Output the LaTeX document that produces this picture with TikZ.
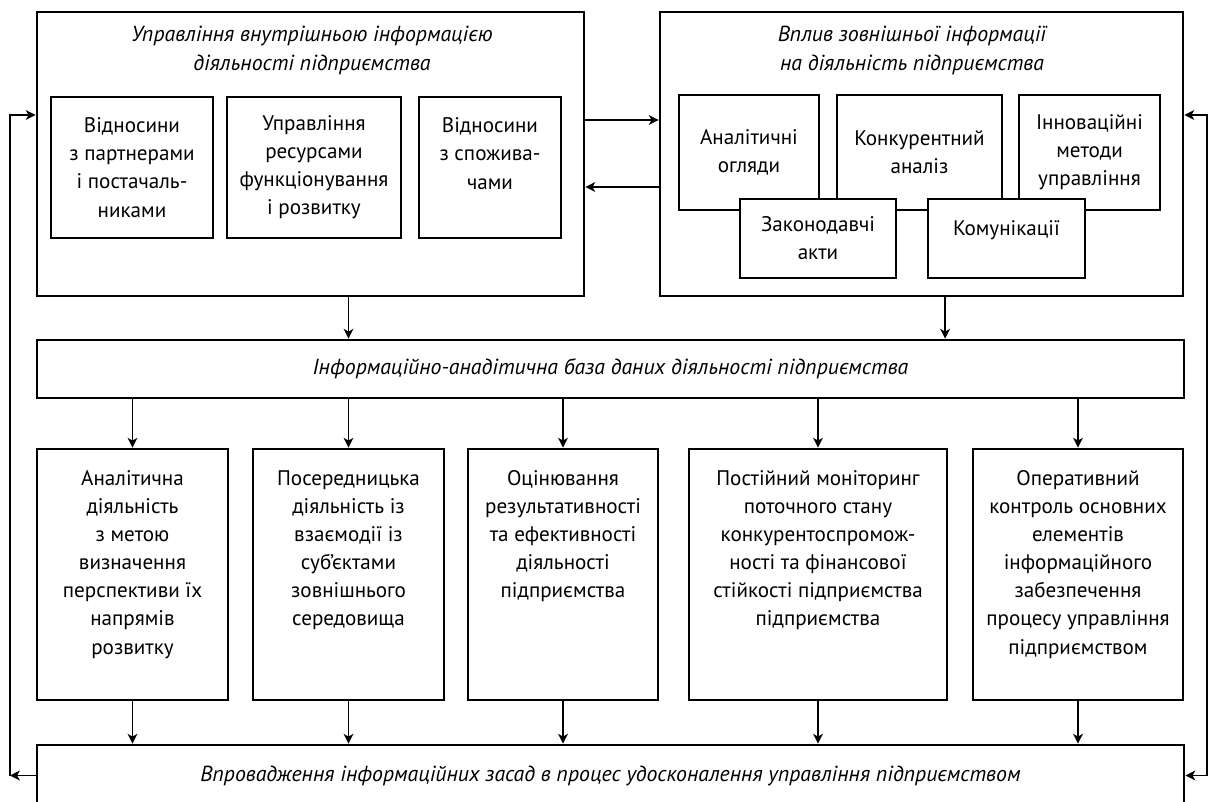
\documentclass[tikz,border=0pt]{standalone}
\usepackage{fontspec}
\setmainfont{PT Sans}
\usetikzlibrary{arrows.meta,positioning}
\begin{document}
\begin{tikzpicture}[x=0.025cm, y=-0.025cm,
  font=\fontsize{15}{20}\selectfont,
  box/.style={draw, line width=1.9pt, fill=white, inner sep=0pt, align=center},
  txt/.style={align=center, inner sep=0pt},
  ital/.style={align=center, inner sep=0pt, font=\fontsize{15.5}{20.5}\selectfont\itshape},
  arr/.style={-{Stealth[length=7pt,width=7pt,inset=2pt]}, line width=1pt}]
\useasboundingbox (0,0) rectangle (1211,802);
\node[box, minimum width=13.675cm, minimum height=7.1cm] (inner) at (310.5,154) {};
\node[box, minimum width=13.075cm, minimum height=7.1cm] (outer) at (921.5,154) {};
\node[ital] (innerttl) at (312,50.5) {Управління внутрішньою інформацією\\діяльності підприємства};
\node[ital] (outerttl) at (912,50.5) {Вплив зовнішньої інформації\\на діяльність підприємства};
\node[box, minimum width=4.05cm, minimum height=3.525cm] (part) at (132,167.5) {Відносини\\з партнерами\\і постачаль-\\никами};
\node[box, minimum width=4.35cm, minimum height=3.525cm] (res) at (314,167.5) {Управління\\ресурсами\\функціонування\\і розвитку};
\node[box, minimum width=3.55cm, minimum height=3.525cm] (cons) at (490,167.5) {Відносини\\з спожива-\\чами\\\mbox{}};
\node[box, minimum width=3.5cm, minimum height=2.875cm] (rev) at (749,152.5) {Аналітичні\\огляди};
\node[box, minimum width=4.125cm, minimum height=2.875cm] (comp) at (919.5,152.5) {Конкурентний\\аналіз};
\node[box, minimum width=3.525cm, minimum height=2.875cm] (innov) at (1089.5,152.5) {Інноваційні\\методи\\управління};
\node[box, minimum width=3.9cm, minimum height=1.975cm] (law) at (818,238.5) {Законодавчі\\акти};
\node[box, minimum width=3.925cm, minimum height=1.975cm, text depth=0.5cm] (comm) at (1006.5,238.5) {Комунікації};
\node[box, minimum width=28.675cm, minimum height=1.45cm, font=\fontsize{15.5}{20}\selectfont\itshape] (base) at (610.5,369) {Інформаційно-анадітична база даних діяльності підприємства};
\node[box, minimum width=4.775cm, minimum height=6.275cm] (anal) at (132.5,574.5) {};
\node[box, minimum width=4.775cm, minimum height=6.275cm] (medi) at (348.5,574.5) {};
\node[box, minimum width=4.75cm, minimum height=6.275cm] (eval) at (563,574.5) {};
\node[box, minimum width=6.45cm, minimum height=6.275cm] (moni) at (818,574.5) {};
\node[box, minimum width=5.25cm, minimum height=6.275cm] (ctrl) at (1078,574.5) {};
\node[txt, below=0.56cm of anal.north] (analtxt) {Аналітична\\діяльність\\з метою\\визначення\\перспективи їх\\напрямів\\розвитку};
\node[txt, below=0.56cm of medi.north] (meditxt) {Посередницька\\діяльність із\\взаємодії із\\суб’єктами\\зовнішнього\\середовища};
\node[txt, below=0.56cm of eval.north] (evaltxt) {Оцінювання\\результативності\\та ефективності\\діяльності\\підприємства};
\node[txt, below=0.56cm of moni.north] (monitxt) {Постійний моніторинг\\поточного стану\\конкурентоспромож-\\ності та фінансової\\стійкості підприємства\\підприємства};
\node[txt, below=0.56cm of ctrl.north] (ctrltxt) {Оперативний\\контроль основних\\елементів\\інформаційного\\забезпечення\\процесу управління\\підприємством};
\node[box, minimum width=28.675cm, minimum height=1.525cm, font=\fontsize{15.5}{20}\selectfont\itshape] (final) at (610.5,775.5) {Впровадження інформаційних засад в процес удосконалення управління підприємством};
\coordinate (lc) at (10,775.5);
\coordinate (rc) at (1207,775.5);
\draw[arr] ([yshift=0.85cm]inner.east) -- ([yshift=0.85cm]inner.east -| outer.west);
\draw[arr] ([yshift=-0.825cm]outer.west) -- ([yshift=-0.825cm]outer.west -| inner.east);
\draw[arr] (inner.south -| medi.north) -- (base.north -| medi.north);
\draw[arr] ([xshift=0.59cm]outer.south) -- ([xshift=0.59cm]outer.south |- base.north);
\foreach \b in {anal,medi,eval,moni,ctrl} {
  \draw[arr] (base.south -| \b.north) -- (\b.north);
  \draw[arr] (\b.south) -- (\b.south |- final.north);
}
\draw[arr] (final.west) -- (lc);
\draw[arr] (lc) |- ([yshift=0.975cm]inner.west);
\draw[arr] (rc) -- (final.east);
\draw[arr] (rc) |- ([yshift=0.975cm]outer.east);
\end{tikzpicture}
\end{document}
